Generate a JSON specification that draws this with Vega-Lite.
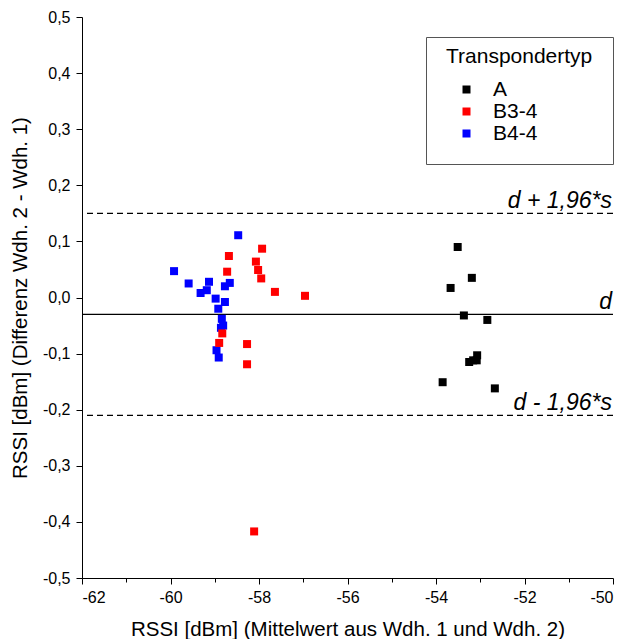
{
  "$schema": "https://vega.github.io/schema/vega-lite/v6.json",
  "autosize": {"type": "none"},
  "width": 531,
  "height": 561,
  "padding": {"left": 82, "top": 17, "right": 13, "bottom": 61},
  "config": {
    "view": {"stroke": null},
    "font": "Liberation Sans",
    "locale": {"number": {"decimal": ",", "thousands": ".", "grouping": [3], "currency": ["", " €"], "minus": "-"}},
    "axis": {"grid": false, "domainColor": "black", "tickColor": "black", "labelColor": "black", "titleColor": "black", "labelFont": "Liberation Sans", "titleFont": "Liberation Sans", "titleFontWeight": "normal", "labelFontSize": 16, "titleFontSize": 20.5, "domainWidth": 1, "tickWidth": 1}
  },
  "datasets": {
    "points": [
      {"x": -58.47, "y": 0.111, "typ": "B4-4"},
      {"x": -59.92, "y": 0.047, "typ": "B4-4"},
      {"x": -59.59, "y": 0.025, "typ": "B4-4"},
      {"x": -59.13, "y": 0.028, "typ": "B4-4"},
      {"x": -59.18, "y": 0.013, "typ": "B4-4"},
      {"x": -59.32, "y": 0.008, "typ": "B4-4"},
      {"x": -58.66, "y": 0.026, "typ": "B4-4"},
      {"x": -58.77, "y": 0.020, "typ": "B4-4"},
      {"x": -58.98, "y": -0.002, "typ": "B4-4"},
      {"x": -58.77, "y": -0.008, "typ": "B4-4"},
      {"x": -58.92, "y": -0.020, "typ": "B4-4"},
      {"x": -58.84, "y": -0.038, "typ": "B4-4"},
      {"x": -58.81, "y": -0.050, "typ": "B4-4"},
      {"x": -58.86, "y": -0.054, "typ": "B4-4"},
      {"x": -58.96, "y": -0.094, "typ": "B4-4"},
      {"x": -58.91, "y": -0.107, "typ": "B4-4"},
      {"x": -57.93, "y": 0.087, "typ": "B3-4"},
      {"x": -58.68, "y": 0.074, "typ": "B3-4"},
      {"x": -58.07, "y": 0.064, "typ": "B3-4"},
      {"x": -58.72, "y": 0.046, "typ": "B3-4"},
      {"x": -58.02, "y": 0.049, "typ": "B3-4"},
      {"x": -57.95, "y": 0.034, "typ": "B3-4"},
      {"x": -57.64, "y": 0.010, "typ": "B3-4"},
      {"x": -56.96, "y": 0.003, "typ": "B3-4"},
      {"x": -58.83, "y": -0.064, "typ": "B3-4"},
      {"x": -58.90, "y": -0.081, "typ": "B3-4"},
      {"x": -58.27, "y": -0.083, "typ": "B3-4"},
      {"x": -58.27, "y": -0.119, "typ": "B3-4"},
      {"x": -58.11, "y": -0.417, "typ": "B3-4"},
      {"x": -53.51, "y": 0.090, "typ": "A"},
      {"x": -53.19, "y": 0.035, "typ": "A"},
      {"x": -53.67, "y": 0.017, "typ": "A"},
      {"x": -53.37, "y": -0.032, "typ": "A"},
      {"x": -52.84, "y": -0.040, "typ": "A"},
      {"x": -53.07, "y": -0.103, "typ": "A"},
      {"x": -53.08, "y": -0.112, "typ": "A"},
      {"x": -53.16, "y": -0.112, "typ": "A"},
      {"x": -53.25, "y": -0.115, "typ": "A"},
      {"x": -53.85, "y": -0.151, "typ": "A"},
      {"x": -52.67, "y": -0.162, "typ": "A"}
    ],
    "lines": [
      {"y": 0.15, "kind": "dashed", "label": "d + 1,96*s"},
      {"y": -0.03, "kind": "solid", "label": "d"},
      {"y": -0.21, "kind": "dashed", "label": "d - 1,96*s"}
    ]
  },
  "layer": [
    {
      "data": {"name": "lines"},
      "transform": [{"filter": "datum.kind === 'dashed'"}],
      "mark": {"type": "rule", "color": "black", "strokeWidth": 1.2, "strokeDash": [6, 4]},
      "encoding": {"y": {"field": "y", "type": "quantitative"}}
    },
    {
      "data": {"name": "lines"},
      "transform": [{"filter": "datum.kind === 'solid'"}],
      "mark": {"type": "rule", "color": "black", "strokeWidth": 1.2},
      "encoding": {"y": {"field": "y", "type": "quantitative"}}
    },
    {
      "data": {"name": "lines"},
      "mark": {"type": "text", "align": "right", "baseline": "alphabetic", "dx": -1, "dy": -5, "fontSize": 23, "fontStyle": "italic", "font": "Liberation Sans", "color": "black"},
      "encoding": {
        "x": {"datum": -50, "type": "quantitative"},
        "y": {"field": "y", "type": "quantitative"},
        "text": {"field": "label"}
      }
    },
    {
      "data": {"name": "points"},
      "mark": {"type": "square", "size": 64, "opacity": 1, "filled": true},
      "encoding": {
        "x": {
          "field": "x", "type": "quantitative",
          "scale": {"domain": [-62, -50], "nice": false, "zero": false},
          "axis": {
            "title": "RSSI [dBm] (Mittelwert aus Wdh. 1 und Wdh. 2)",
            "values": [-62, -61, -60, -59, -58, -57, -56, -55, -54, -53, -52, -51, -50],
            "format": "d",
            "labelExpr": "abs(datum.value) % 2 === 0 ? datum.label : ''",
            "tickSize": {"condition": {"test": "abs(datum.value) % 2 === 0", "value": 6}, "value": 4},
            "labelPadding": 5,
            "titlePadding": 14
          }
        },
        "y": {
          "field": "y", "type": "quantitative",
          "scale": {"domain": [-0.5, 0.5], "nice": false, "zero": false},
          "axis": {
            "title": "RSSI [dBm] (Differenz Wdh. 2 - Wdh. 1)",
            "values": [-0.5, -0.45, -0.4, -0.35, -0.3, -0.25, -0.2, -0.15, -0.1, -0.05, 0, 0.05, 0.1, 0.15, 0.2, 0.25, 0.3, 0.35, 0.4, 0.45, 0.5],
            "format": ".1f",
            "labelExpr": "abs(round(datum.value * 100)) % 10 === 0 ? datum.label : ''",
            "tickSize": {"condition": {"test": "abs(round(datum.value * 100)) % 10 === 0", "value": 6}, "value": 4},
            "labelPadding": 6,
            "titlePadding": 12
          }
        },
        "color": {
          "field": "typ", "type": "nominal",
          "scale": {"domain": ["A", "B3-4", "B4-4"], "range": ["#000000", "#ff0000", "#0000ff"]},
          "legend": {
            "title": "Transpondertyp",
            "orient": "none",
            "legendX": 344,
            "legendY": 20,
            "strokeColor": "#555555",
            "fillColor": "white",
            "padding": 20,
            "titleFontSize": 21,
            "titleFontWeight": "normal",
            "titleColor": "black",
            "titleFont": "Liberation Sans",
            "titleAnchor": "start",
            "titleBaseline": "middle",
            "titlePadding": 1,
            "labelFontSize": 21,
            "labelColor": "black",
            "labelFont": "Liberation Sans",
            "symbolType": "square",
            "symbolSize": 64,
            "symbolOffset": 10,
            "labelOffset": 16,
            "rowPadding": 0
          }
        }
      }
    }
  ]
}
